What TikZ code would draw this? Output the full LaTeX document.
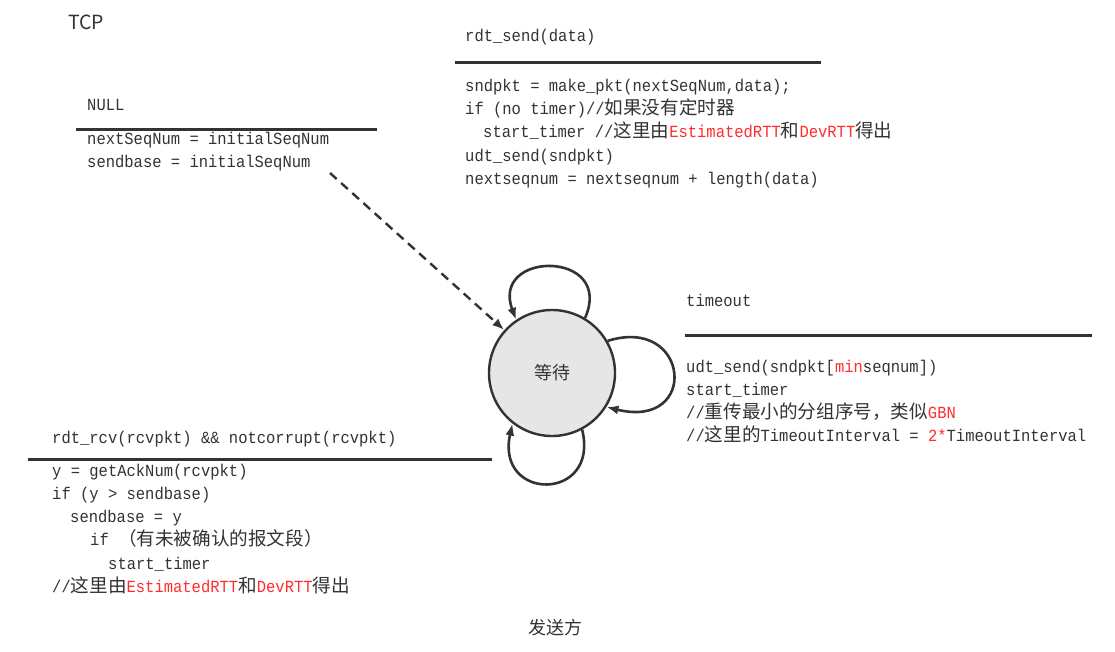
\documentclass[tikz,border=0pt]{standalone}
\usepackage{fontspec}
\setmonofont[FakeStretch=0.912]{Liberation Mono}
\newfontfamily\cjk[Scale=1.094]{Noto Sans CJK SC}
\newfontfamily\uisans{Noto Sans CJK SC}
\usetikzlibrary{arrows.meta}
\definecolor{ink}{HTML}{333333}
\definecolor{hl}{HTML}{FF2D2D}
\definecolor{stfill}{HTML}{E6E6E6}
\newcommand{\C}[1]{{\cjk #1}}
\newcommand{\R}[1]{\textcolor{hl}{#1}}
\begin{document}
\begin{tikzpicture}[x=1pt,y=-1pt,
 code/.style={anchor=base west, inner sep=0pt, font=\ttfamily\fontsize{17}{23}\selectfont, text=ink},
 rule/.style={draw=ink, line width=3pt},
 state/.style={circle, draw=ink, line width=2.4pt, fill=stfill, minimum size=126pt, inner sep=0pt, font=\uisans\fontsize{18}{20}\selectfont, text=ink},
 loopedge/.style={draw=ink, line width=2.6pt, -{Latex[length=12pt,width=9pt]}},
 initedge/.style={draw=ink, line width=2.4pt, dash pattern=on 9pt off 6pt, -{Latex[length=12pt,width=9pt]}},
 label/.style={inner sep=0pt, font=\uisans\fontsize{18}{20}\selectfont, text=ink}]
\fill[white] (0,0) rectangle (1115,652);
\useasboundingbox (0,0) rectangle (1115,652);

% title
\node[label, anchor=base west, font=\uisans\fontsize{19.5}{21}\selectfont] (tcp) at (68,30) {TCP};
\node[label, anchor=base] (sender) at (555,634) {发送方};

% initial block
\node[code] (null) at (87,111) {NULL};
\draw[rule] (76,130) -- (377,130);
\node[code] (i1) at (87,145) {nextSeqNum = initialSeqNum};
\node[code] (i2) at (87,168) {sendbase = initialSeqNum};

% rdt_send block
\node[code] (s0) at (465,42) {rdt\_send(data)};
\draw[rule] (455,63) -- (821,63);
\node[code] (s1) at (465,92) {sndpkt = make\_pkt(nextSeqNum,data);};
\node[code] (s2) at (465,115) {if (no timer)//\C{如果没有定时器}};
\node[code] (s3) at (483,138) {start\_timer //\C{这里由}\R{EstimatedRTT}\C{和}\R{DevRTT}\C{得出}};
\node[code] (s4) at (465,162) {udt\_send(sndpkt)};
\node[code] (s5) at (465,185) {nextseqnum = nextseqnum + length(data)};

% timeout block
\node[code] (t0) at (686,306) {timeout};
\draw[rule] (685,335) -- (1092,335);
\node[code] (t1) at (686,372) {udt\_send(sndpkt[\R{min}seqnum])};
\node[code] (t2) at (686,395) {start\_timer};
\node[code] (t3) at (686,418) {//\C{重传最小的分组序号，类似}\R{GBN}};
\node[code] (t4) at (686,441) {//\C{这里的}TimeoutInterval = \R{2*}TimeoutInterval};

% rdt_rcv block
\node[code] (r0) at (52,443) {rdt\_rcv(rcvpkt) \&\& notcorrupt(rcvpkt)};
\draw[rule] (28,459) -- (492,459);
\node[code] (r1) at (52,476) {y = getAckNum(rcvpkt)};
\node[code] (r2) at (52,499) {if (y > sendbase)};
\node[code] (r3) at (70,522) {sendbase = y};
\node[code] (r4) at (90,545) {if \C{（有未被确认的报文段）}};
\node[code] (r5) at (108,569) {start\_timer};
\node[code] (r6) at (52,592) {//\C{这里由}\R{EstimatedRTT}\C{和}\R{DevRTT}\C{得出}};

% state
\node[state] (wait) at (552,373) {等待};

% edges
\coordinate (initstart) at (330,173);
\draw[initedge] (initstart) -- (wait);
\draw[loopedge] (wait.59) .. controls (615,250) and (490,250) .. (wait.124);
\draw[loopedge] (wait.30) .. controls (690,315) and (700,430) .. (wait.-32);
\draw[loopedge] (wait.-62) .. controls (600,502) and (495,502) .. (wait.-128);
\end{tikzpicture}
\end{document}
